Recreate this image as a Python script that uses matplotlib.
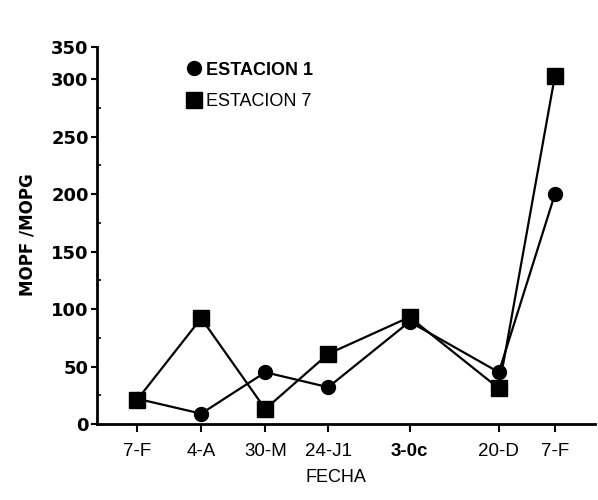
import matplotlib.pyplot as plt
import numpy as np

# fechas (dias desde 7-F) y etiquetas
dias = [0, 56, 112, 167, 238, 316, 365]
fechas = ['7-F', '4-A', '30-M', '24-J1', '3-0c', '20-D', '7-F']

estacion1 = [22, 9, 45, 32, 89, 45, 200]
estacion7 = [21, 92, 13, 61, 93, 31, 303]

ytick_vals = [0, 50, 100, 150, 200, 250, 300, 328]
ytick_labels = ['0', '50', '100', '150', '200', '250', '300', '350']

fig = plt.figure(figsize=(5.98, 5.0), dpi=100)
ax = fig.add_axes([97/598, 76/500, 498/598, 377/500])

ax.plot(dias, estacion1, color='black', lw=1.6, marker='o', ms=10, zorder=3,
        label='ESTACION 1')
ax.plot(dias, estacion7, color='black', lw=1.6, marker='s', ms=12, zorder=3,
        label='ESTACION 7')

ax.set_xlim(-35, 400)
ax.set_ylim(0, 328)

ax.spines['top'].set_visible(False)
ax.spines['right'].set_visible(False)
ax.spines['left'].set_linewidth(2)
ax.spines['bottom'].set_linewidth(2)

ax.set_xticks(dias)
ax.set_xticklabels(fechas, fontsize=13.5, family='Liberation Sans')
ax.get_xticklabels()[4].set_fontweight('bold')
ax.tick_params(axis='x', length=6, width=1.5, direction='out', pad=8)

ax.set_yticks(ytick_vals)
ax.set_yticklabels(ytick_labels, fontsize=13, fontweight='bold', family='DejaVu Sans')
ax.tick_params(axis='y', length=4, width=1.5, direction='out', pad=2)
ax.set_yticks(np.arange(25, 300, 50), minor=True)
ax.tick_params(axis='y', which='minor', length=3, width=1.2, direction='in')

leg = ax.legend(loc='upper left', bbox_to_anchor=(0.165, 0.985), frameon=False,
                handlelength=0.6, handletextpad=0.4, labelspacing=0.8,
                borderpad=0, prop={'family': 'Liberation Sans', 'size': 13})
leg.get_texts()[0].set_fontweight('bold')
for h in leg.legend_handles:
    h.set_linestyle('none')

fig.text(28/598, 1 - 235/500, 'MOPF /MOPG', rotation=90, ha='center', va='center',
         fontsize=12, fontweight='bold')
fig.text(336/598, 1 - 478/500, 'FECHA', ha='center', va='center', fontsize=13,
         family='Liberation Sans')

fig.savefig('out.png', dpi=100)
